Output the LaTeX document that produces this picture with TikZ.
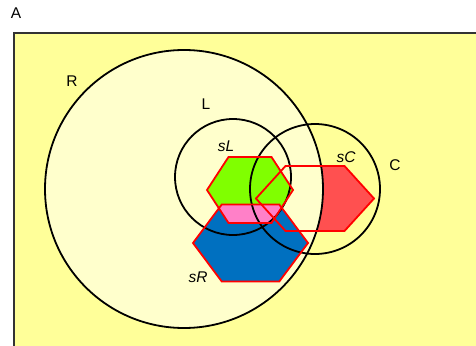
\documentclass[tikz,border=0pt]{standalone}
\usepackage{fontspec}
\setmainfont{Liberation Sans}

\definecolor{paper}{RGB}{255,255,153}
\definecolor{pale}{RGB}{255,255,204}
\definecolor{lime}{RGB}{128,255,0}
\definecolor{sea}{RGB}{0,112,192}
\definecolor{salmon}{RGB}{255,80,80}
\definecolor{rose}{RGB}{255,128,200}

% flat-topped hexagon: centre x, centre y, half width, half height
\newcommand{\hexa}[4]{({#1-#3},{#2}) -- ({#1-#3/2},{#2-#4}) -- ({#1+#3/2},{#2-#4})
  -- ({#1+#3},{#2}) -- ({#1+#3/2},{#2+#4}) -- ({#1-#3/2},{#2+#4}) -- cycle}

\tikzset{
  ring/.style={draw=black, line width=1.8pt, circle, inner sep=0pt},
  setline/.style={draw=red, line width=1.8pt, line join=miter},
  lab/.style={font=\fontsize{15.5}{15.5}\selectfont},
  slab/.style={font=\fontsize{15.5}{15.5}\selectfont\itshape}
}

\begin{document}
\begin{tikzpicture}[x=1pt, y=-1pt]
    \useasboundingbox (0,0) rectangle (476,345);

    % 1. the universe A
    \fill[paper] (14,33) rectangle (480,350);
    \draw[black!80, line width=1.4pt] (480,33) -- (14,33) -- (14,350);
    \node[lab] (A) at (16,13) {A};

    % 2. sC sticks out of R, so fill it before R
    \fill[salmon] \hexa{315}{198.5}{59}{32.5};
    \fill[pale] (184,189) circle[radius=139];

    % 3. sL, sR and their overlap
    \fill[lime] \hexa{250}{190}{43}{33};
    \fill[sea] \hexa{250.5}{243}{57.5}{38.5};
    \begin{scope}
        \clip \hexa{250.5}{243}{57.5}{38.5};
        \fill[rose] \hexa{250}{190}{43}{33};
    \end{scope}

    % 4. outlines
    \node[ring, minimum size=278pt] (R) at (184,189) {};
    \node[ring, minimum size=116pt] (L) at (233,177) {};
    \node[ring, minimum size=130pt] (C) at (315,189) {};
    \draw[setline] \hexa{315}{198.5}{59}{32.5};
    \draw[setline] \hexa{250}{190}{43}{33};
    \draw[setline] \hexa{250.5}{243}{57.5}{38.5};

    \node[lab] (Rlab) at (72,81) {R};
    \node[lab] (Llab) at (206,104) {L};
    \node[lab] (Clab) at (395,165) {C};
    \node[slab] (sLlab) at (226,146) {sL};
    \node[slab] (sClab) at (346,157) {sC};
    \node[slab] (sRlab) at (198,277) {sR};

\end{tikzpicture}
\end{document}
